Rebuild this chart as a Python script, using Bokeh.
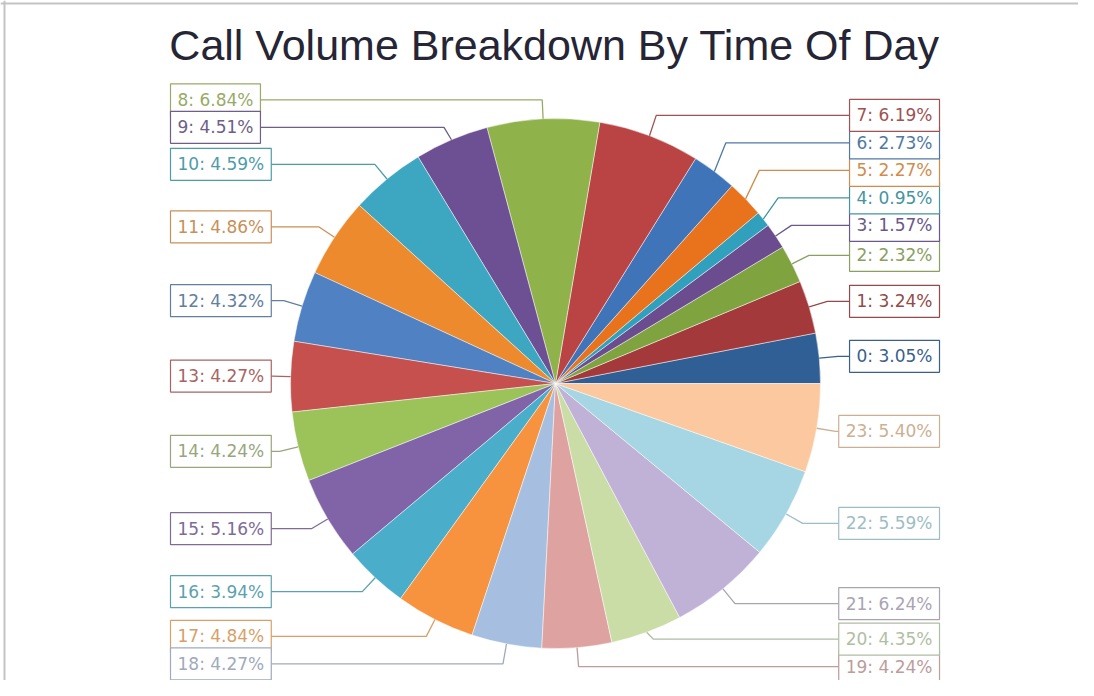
import math
from bokeh.plotting import figure
from bokeh.models import Range1d, Label, Span, ColumnDataSource
from bokeh.embed import file_html
from bokeh.resources import INLINE
from bokeh.core.properties import value

# ---- data ----
hours = ["0", "1", "2", "3", "4", "5", "6", "7", "8", "9", "10", "11",
         "12", "13", "14", "15", "16", "17", "18", "19", "20", "21", "22", "23"]
shares = [3.05, 3.24, 2.32, 1.57, 0.95, 2.27, 2.73, 6.19, 6.84, 4.51, 4.59, 4.86,
          4.32, 4.27, 4.24, 5.16, 3.94, 4.84, 4.27, 4.24, 4.35, 6.24, 5.59, 5.40]
slice_colors = ["#2f5f95", "#a3393a", "#7fa33e", "#6a4c8f", "#31a0bc", "#e8731c",
                "#3f74b8", "#b94443", "#8fb34a", "#6d4f93", "#3da7c2", "#ee8a2e",
                "#4f81c3", "#c5504e", "#9cc25a", "#8164a8", "#4aaecb", "#f7923f",
                "#a6bfe0", "#dea2a1", "#cbdda7", "#c0b1d6", "#a6d6e3", "#fbc89f"]
label_colors = ["#3a5f8c", "#944a48", "#8aa062", "#6a5888", "#45949f", "#d08c4c",
                "#5078a4", "#a05252", "#98aa68", "#6e5e88", "#4e9caa", "#c89058",
                "#62809e", "#a86464", "#98a67e", "#7e6c96", "#5ca2ae", "#d8a068",
                "#a0aabc", "#bc9c9c", "#b0bea4", "#aaa4b2", "#9cbec4", "#ccb094"]
title_text = "Call Volume Breakdown By Time Of Day"

# ---- layout (pixel-like data space) ----
W, H = 1078, 680
CX, CY, R = 555, 297, 265
R_OUT = 284
GAP = 27.5
RIGHT_EDGE = 939
LEFT_EDGE = 170
PAD_V, PAD_H = 7, 6

p = figure(width=W, height=H, x_range=Range1d(0, W), y_range=Range1d(0, H),
           output_backend="svg", toolbar_location=None, tools="",
           x_axis_type=None, y_axis_type=None, min_border=0)
p.grid.visible = False
p.outline_line_color = None
p.background_fill_color = "white"

total = sum(shares)
starts, ends, mids = [], [], []
acc = 0.0
for v in shares:
    a0 = acc / total * 2 * math.pi
    acc += v
    a1 = acc / total * 2 * math.pi
    starts.append(a0)
    ends.append(a1)
    mids.append((a0 + a1) / 2)

p.wedge(x=CX, y=CY, radius=R, start_angle=starts, end_angle=ends,
        direction="anticlock", fill_color=slice_colors,
        line_color="white", line_width=0.8, line_alpha=0.6)

# label placement with simple overlap resolution
label_y, sides = [], []
prev_side, prev_y = None, None
for m in mids:
    side = "right" if math.cos(m) >= 0 else "left"
    desired = CY + R_OUT * math.sin(m)
    y = desired
    if side == prev_side:
        if desired > prev_y:
            y = max(desired, prev_y + GAP)
        else:
            y = min(desired, prev_y - GAP)
    label_y.append(y)
    sides.append(side)
    prev_side, prev_y = side, y

xs, ys = [], []
tx, talign, texts = [], [], []
for i, m in enumerate(mids):
    ex, ey = CX + R * math.cos(m), CY + R * math.sin(m)
    bx = CX + R_OUT * math.cos(m)
    if sides[i] == "right":
        end_x = RIGHT_EDGE - 40
        tx.append(RIGHT_EDGE)
        talign.append("right")
    else:
        end_x = LEFT_EDGE + 40
        tx.append(LEFT_EDGE)
        talign.append("left")
    xs.append([ex, bx, end_x])
    ys.append([ey, label_y[i], label_y[i]])
    texts.append(f"{hours[i]}: {shares[i]:.2f}%")

p.multi_line(xs=xs, ys=ys, line_color=label_colors, line_width=1.3)

src = ColumnDataSource(dict(x=tx, y=label_y, text=texts, align=talign, color=label_colors))
p.text(x="x", y="y", text="text", source=src, text_align="align",
       text_baseline="middle", text_color="color",
       text_font=value("DejaVu Sans"), text_font_size="17px",
       background_fill_color="white", border_line_color="color",
       border_line_width=1.2, padding=(PAD_V, PAD_H))

p.add_layout(Label(x=554, y=H - 44, text=title_text, text_align="center",
                   text_baseline="middle", text_font="Liberation Sans",
                   text_font_size="43px", text_color="#252535"))

p.add_layout(Span(location=H - 3, dimension="width", line_color="#c4c4c4", line_width=2))
p.add_layout(Span(location=4, dimension="height", line_color="#c4c4c4", line_width=2))

open("out.html", "w").write(file_html(p, INLINE))
